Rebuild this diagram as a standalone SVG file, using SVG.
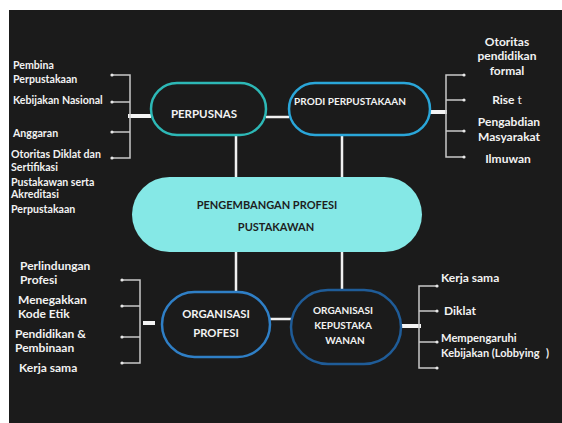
<svg xmlns="http://www.w3.org/2000/svg" width="562" height="423" viewBox="0 0 562 423">
<defs>
<style>
.bg{fill:#1b1b1b}
.pill{fill:#1b1b1b;stroke-width:2.5}
.lbl{font-family:Lato,"Open Sans",sans-serif;font-weight:700;fill:#f2f2f2}
.t10{font-size:10px}
.t105{font-size:10.6px}
.t11{font-size:11px}
.t12{font-size:12px}
.tick{stroke:#c9c9c9;stroke-width:1.5;fill:none}
.thick{stroke:#f4f4f4;stroke-width:4}
.link{stroke:#f0f0f0;stroke-width:2.5}
.dot{fill:#e8e8e8}
.dark{fill:#1e1e1e}
</style>
</defs>
<rect x="0" y="0" width="562" height="423" fill="#ffffff"/>
<rect class="bg" x="9" y="10" width="553" height="413"/>

<g id="connectors">
  <line class="link" x1="266" y1="117" x2="289" y2="117"/>
  <line class="link" x1="236" y1="135" x2="236" y2="178"/>
  <line class="link" x1="342" y1="135" x2="342" y2="178"/>
  <line class="link" x1="236" y1="251" x2="236" y2="292"/>
  <line class="link" x1="342" y1="251" x2="342" y2="290"/>
  <line class="link" x1="270" y1="319" x2="291" y2="319"/>
  <!-- PERPUSNAS bracket -->
  <line class="thick" x1="128" y1="116" x2="151" y2="116"/>
  <path class="tick" d="M112 75 H130 V158 H112 M112 102 H130 M112 132 H130"/>
  <circle class="dot" cx="112" cy="75" r="1.6"/><circle class="dot" cx="112" cy="102" r="1.6"/><circle class="dot" cx="112" cy="132" r="1.6"/><circle class="dot" cx="112" cy="158" r="1.6"/>
  <!-- PRODI bracket -->
  <line class="thick" x1="429" y1="112" x2="447" y2="112"/>
  <path class="tick" d="M464 75 H446 V157 H464 M446 100 H464 M446 131 H464"/>
  <circle class="dot" cx="464" cy="75" r="1.6"/><circle class="dot" cx="464" cy="100" r="1.6"/><circle class="dot" cx="464" cy="131" r="1.6"/><circle class="dot" cx="464" cy="157" r="1.6"/>
  <!-- ORG PROFESI bracket -->
  <line class="thick" x1="143" y1="323" x2="155" y2="323"/>
  <path class="tick" d="M122 280 H140 V363 H122 M122 306 H140 M122 337 H140"/>
  <circle class="dot" cx="122" cy="280" r="1.6"/><circle class="dot" cx="122" cy="306" r="1.6"/><circle class="dot" cx="122" cy="337" r="1.6"/><circle class="dot" cx="122" cy="363" r="1.6"/>
  <!-- ORG KEPUSTAKAWANAN bracket -->
  <line class="thick" x1="401" y1="326" x2="421" y2="326"/>
  <path class="tick" d="M437 286 H419 V368 H437 M419 311 H437 M419 342 H437"/>
  <circle class="dot" cx="437" cy="286" r="1.6"/><circle class="dot" cx="437" cy="311" r="1.6"/><circle class="dot" cx="437" cy="342" r="1.6"/><circle class="dot" cx="437" cy="368" r="1.6"/>
</g>

<g id="perpusnas">
  <rect class="pill" x="151" y="83" width="115" height="52" rx="26" stroke="#2db8b6"/>
  <text class="lbl" font-size="11.5" x="204" y="118" text-anchor="middle">PERPUSNAS</text>
</g>

<g id="prodi">
  <rect class="pill" x="289" y="83" width="141" height="52" rx="26" stroke="#2aa6d9"/>
  <text class="lbl t10" x="350" y="105" text-anchor="middle">PRODI PERPUSTAKAAN</text>
</g>

<g id="pengembangan">
  <rect x="132" y="177" width="290" height="75" rx="37.5" fill="#85e8e6"/>
  <text class="lbl t11 dark" x="267" y="209" text-anchor="middle">PENGEMBANGAN PROFESI</text>
  <text class="lbl t11 dark" x="276" y="231" text-anchor="middle">PUSTAKAWAN</text>
</g>

<g id="organisasi-profesi">
  <rect class="pill" x="162" y="292" width="108" height="65" rx="32.5" stroke="#2f7fc6"/>
  <text class="lbl" font-size="11.3" x="216" y="318" text-anchor="middle">ORGANISASI</text>
  <text class="lbl" font-size="11.3" x="216" y="337" text-anchor="middle">PROFESI</text>
</g>

<g id="organisasi-kepustakawanan">
  <rect class="pill" x="291" y="290" width="110" height="74" rx="37" stroke="#1f5c98"/>
  <text class="lbl t10" x="343" y="314" text-anchor="middle">ORGANISASI</text>
  <text class="lbl t10" x="343" y="329" text-anchor="middle">KEPUSTAKA</text>
  <text class="lbl t10" x="345" y="344" text-anchor="middle">WANAN</text>
</g>

<g id="perpusnas-items">
  <text class="lbl t105" x="13" y="69">Pembina</text>
  <text class="lbl t105" x="13" y="83">Perpustakaan</text>
  <text class="lbl t105" x="13" y="104">Kebijakan Nasional</text>
  <text class="lbl t105" x="13" y="137">Anggaran</text>
  <text class="lbl t105" x="11" y="158">Otoritas Diklat dan</text>
  <text class="lbl t105" x="11" y="171">Sertifikasi</text>
  <text class="lbl t105" x="11" y="186">Pustakawan serta</text>
  <text class="lbl t105" x="11" y="198">Akreditasi</text>
  <text class="lbl t105" x="11" y="213">Perpustakaan</text>
</g>

<g id="prodi-items">
  <text class="lbl t12" x="507" y="46" text-anchor="middle">Otoritas</text>
  <text class="lbl t12" x="507" y="60" text-anchor="middle">pendidikan</text>
  <text class="lbl t12" x="507" y="75" text-anchor="middle">formal</text>
  <text class="lbl t12" x="507" y="104" text-anchor="middle">Rise<tspan dx="3" font-weight="400">t</tspan></text>
  <text class="lbl t12" x="509" y="126" text-anchor="middle">Pengabdian</text>
  <text class="lbl t12" x="509" y="141" text-anchor="middle">Masyarakat</text>
  <text class="lbl t12" x="508" y="163" text-anchor="middle">Ilmuwan</text>
</g>

<g id="organisasi-profesi-items">
  <text class="lbl t12" x="20" y="270">Perlindungan</text>
  <text class="lbl t12" x="20" y="284">Profesi</text>
  <text class="lbl t12" x="18" y="304">Menegakkan</text>
  <text class="lbl t12" x="18" y="318">Kode Etik</text>
  <text class="lbl t12" x="15" y="338">Pendidikan &amp;</text>
  <text class="lbl t12" x="15" y="352">Pembinaan</text>
  <text class="lbl t12" x="19" y="372">Kerja sama</text>
</g>

<g id="organisasi-kepustakawanan-items">
  <text class="lbl t12" x="441" y="282">Kerja sama</text>
  <text class="lbl t12" x="444" y="315">Diklat</text>
  <text class="lbl" font-size="11.2" x="441" y="342">Mempengaruhi</text>
  <text class="lbl" font-size="11" x="441" y="357">Kebijakan (Lobbying<tspan x="546">)</tspan></text>
</g>
</svg>
